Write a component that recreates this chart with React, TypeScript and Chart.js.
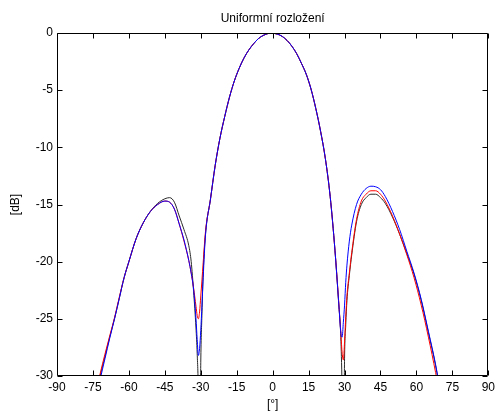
import { useEffect, useRef } from "react";
import { Chart, registerables } from "chart.js";

Chart.register(...registerables);

// Angle samples in degrees (shared by all three patterns)
const angles = [
  -74, -72, -70, -68, -66, -64, -62, -60, -57, -54, -51, -48, -45, -43, -41, -39, -37, -35, -34, -33,
  -32, -31.5, -31, -30.5, -30, -29.5, -29, -28, -26, -24, -22, -20, -18, -16, -14, -12, -10, -8, -6, -4,
  -2, -1, 0, 2, 4, 6, 8, 10, 12, 14, 16, 18, 20, 22, 24, 26, 27.5, 28.5, 29, 29.5,
  30, 30.5, 31, 32, 33, 35, 37, 39, 41, 43, 45, 47, 50, 53, 56, 59, 62, 65, 68, 70,
  72,
];

// Radiation pattern levels in dB
const dbBlack = [
  -32.0, -30.0, -28.3, -26.6, -25.0, -23.2, -21.4, -20.0, -18.0, -16.6, -15.6, -14.9, -14.5, -14.4, -14.8, -16.0, -17.2, -18.6, -20.0, -22.6,
  -25.8, -28.0, -31.5, -40.0, -28.8, -24.5, -21.0, -17.5, -14.6, -11.6, -9.2, -7.3, -5.6, -4.2, -3.1, -2.2, -1.5, -0.95, -0.5, -0.22,
  -0.05, 0, -0.02, -0.1, -0.3, -0.65, -1.15, -1.8, -2.65, -3.6, -4.9, -6.6, -8.6, -11.0, -14.3, -19.0, -23.5, -27.0, -31.5, -40.0,
  -28.5, -25.5, -23.4, -21.2, -19.4, -16.5, -15.0, -14.4, -14.1, -14.1, -14.4, -14.9, -16.1, -17.6, -19.3, -21.1, -23.4, -26.2, -29.1, -31.5,
  -34.0,
];

const dbRed = [
  -31.6, -29.8, -28.1, -26.5, -24.9, -23.1, -21.4, -20.0, -18.0, -16.6, -15.6, -15.0, -14.7, -14.8, -15.4, -16.7, -18.2, -19.9, -21.0, -22.3,
  -23.9, -24.7, -25.0, -24.4, -23.0, -21.6, -20.1, -17.3, -14.6, -11.6, -9.2, -7.3, -5.6, -4.2, -3.1, -2.2, -1.5, -0.95, -0.5, -0.22,
  -0.05, 0, -0.02, -0.1, -0.3, -0.65, -1.15, -1.8, -2.65, -3.6, -4.9, -6.6, -8.6, -11.0, -14.3, -19.0, -23.3, -26.4, -28.0, -28.6,
  -27.0, -24.8, -23.0, -21.0, -19.2, -16.3, -14.7, -14.1, -13.8, -13.8, -14.1, -14.7, -16.0, -17.6, -19.4, -21.4, -23.8, -26.6, -29.7, -32.0,
  -34.5,
];

const dbBlue = [
  -32.2, -30.3, -28.5, -26.7, -25.0, -23.2, -21.4, -20.0, -18.0, -16.6, -15.6, -15.0, -14.7, -14.8, -15.4, -16.7, -18.1, -19.9, -21.0, -22.4,
  -25.0, -26.8, -28.2, -27.6, -26.0, -23.8, -21.4, -17.6, -14.6, -11.6, -9.2, -7.3, -5.6, -4.2, -3.1, -2.2, -1.5, -0.95, -0.5, -0.22,
  -0.05, 0, -0.02, -0.1, -0.3, -0.65, -1.15, -1.8, -2.65, -3.6, -4.9, -6.6, -8.6, -11.0, -14.3, -19.0, -23.4, -26.3, -26.6, -25.3,
  -23.8, -21.8, -20.3, -18.2, -16.8, -15.0, -14.1, -13.6, -13.4, -13.45, -13.7, -14.3, -15.6, -17.2, -19.1, -21.0, -23.3, -26.1, -29.0, -31.4,
  -34.0,
];

const xTicks = [-90, -75, -60, -45, -30, -15, 0, 15, 30, 45, 60, 75, 90];
const yTicks = [-30, -25, -20, -15, -10, -5, 0];

const titleText = "Uniformní rozložení";
const xTitle = "[°]";
const yTitle = "[dB]";

const FONT = '"Liberation Sans", Arial, sans-serif';

const toPoints = (vals: number[]) => angles.map((a, i) => ({ x: a, y: vals[i] }));

// Boxed axes with inward tick marks plus the title and axis captions
const framePlugin = {
  id: "frame",
  afterDraw(chart: any) {
    const { ctx, chartArea, scales } = chart;
    const { left, right, top, bottom } = chartArea;
    const L = Math.round(left) + 0.5;
    const R = Math.round(right) - 0.5;
    const T = Math.round(top) + 0.5;
    const B = Math.round(bottom) - 0.5;
    ctx.save();
    ctx.strokeStyle = "#000";
    ctx.lineWidth = 1;
    ctx.beginPath();
    ctx.rect(L, T, R - L, B - T);
    const tl = 5;
    xTicks.forEach((v) => {
      const px = Math.round(scales.x.getPixelForValue(v)) + 0.5;
      ctx.moveTo(px, B);
      ctx.lineTo(px, B - tl);
      ctx.moveTo(px, T);
      ctx.lineTo(px, T + tl);
    });
    yTicks.forEach((v) => {
      const py = Math.round(scales.y.getPixelForValue(v)) + 0.5;
      ctx.moveTo(L, py);
      ctx.lineTo(L + tl, py);
      ctx.moveTo(R, py);
      ctx.lineTo(R - tl, py);
    });
    ctx.stroke();

    ctx.fillStyle = "#000";
    ctx.font = `12px ${FONT}`;
    ctx.textAlign = "center";
    ctx.textBaseline = "middle";
    const cx = (left + right) / 2;
    ctx.fillText(titleText, cx, 19);
    ctx.fillText(xTitle, cx, 405);
    ctx.translate(16, (top + bottom) / 2);
    ctx.rotate(-Math.PI / 2);
    ctx.fillText(yTitle, 0, 0);
    ctx.restore();
  },
};

export default function App() {
  const canvasRef = useRef<HTMLCanvasElement | null>(null);

  useEffect(() => {
    const canvas = canvasRef.current;
    if (!canvas) return;
    const line = (label: string, color: string, vals: number[]) => ({
      label,
      data: toPoints(vals),
      borderColor: color,
      backgroundColor: color,
      borderWidth: 1,
      pointRadius: 0,
      fill: false,
      cubicInterpolationMode: "monotone" as const,
    });
    const chart = new Chart(canvas, {
      type: "line",
      data: {
        datasets: [
          line("blue", "#0000ff", dbBlue),
          line("red", "#ff0000", dbRed),
          line("black", "#2a2a2a", dbBlack),
        ],
      },
      options: {
        animation: false,
        responsive: false,
        devicePixelRatio: 1,
        layout: { padding: { top: 33, right: 8, left: 0, bottom: 0 } },
        plugins: {
          legend: { display: false },
          title: { display: false },
          tooltip: { enabled: false },
        },
        scales: {
          x: {
            type: "linear",
            min: -90,
            max: 90,
            afterBuildTicks: (s: any) => {
              s.ticks = xTicks.map((v) => ({ value: v }));
            },
            afterFit: (s: any) => {
              s.height = 40;
            },
            grid: { display: false, drawTicks: false },
            border: { display: false },
            ticks: {
              padding: 4,
              autoSkip: false,
              maxRotation: 0,
              color: "#000",
              font: { family: FONT, size: 12 },
            },
          },
          y: {
            type: "linear",
            min: -30,
            max: 0,
            afterBuildTicks: (s: any) => {
              s.ticks = yTicks.map((v) => ({ value: v }));
            },
            afterFit: (s: any) => {
              s.width = 57;
            },
            grid: { display: false, drawTicks: false },
            border: { display: false },
            ticks: {
              padding: 4,
              autoSkip: false,
              color: "#000",
              font: { family: FONT, size: 12 },
            },
          },
        },
      },
      plugins: [framePlugin],
    });
    return () => chart.destroy();
  }, []);

  return (
    <div style={{ position: "fixed", left: 0, top: 0, width: 499, height: 416, background: "#fff" }}>
      <canvas ref={canvasRef} width={499} height={416} />
    </div>
  );
}
